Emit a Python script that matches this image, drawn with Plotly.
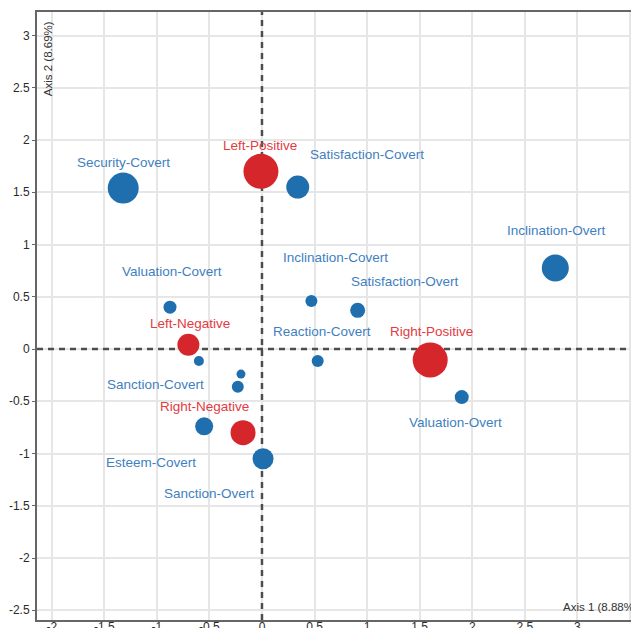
import plotly.graph_objects as go

# ---- data ----
blue_names = ["Security-Covert", "Satisfaction-Covert", "Inclination-Overt", "Inclination-Covert",
              "Satisfaction-Overt", "Valuation-Covert", "Reaction-Covert", "Sanction-Covert",
              "", "", "Valuation-Overt", "Esteem-Covert", "Sanction-Overt"]
blue_x = [-1.32, 0.34, 2.79, 0.47, 0.91, -0.875, 0.53, -0.60, -0.20, -0.23, 1.90, -0.55, 0.01]
blue_y = [1.54, 1.55, 0.775, 0.46, 0.37, 0.40, -0.115, -0.115, -0.24, -0.36, -0.46, -0.74, -1.05]
blue_weight = [31, 23, 27, 12, 15, 13, 12, 10, 9, 12, 14, 18, 21]

red_names = ["Left-Positive", "Left-Negative", "Right-Positive", "Right-Negative"]
red_x = [-0.01, -0.70, 1.60, -0.18]
red_y = [1.70, 0.04, -0.105, -0.80]
red_weight = [35, 22, 35, 25]

x_title = "Axis 1 (8.88%)"
y_title = "Axis 2 (8.69%)"

x_ticks = [-2, -1.5, -1, -0.5, 0, 0.5, 1, 1.5, 2, 2.5, 3, 3.5]
x_ticktext = ["-2", "-1.5", "-1", "-0.5", "0", "0.5", "1", "1.5", "2", "2.5", "3", "3.5"]
y_ticks = [-2.5, -2, -1.5, -1, -0.5, 0, 0.5, 1, 1.5, 2, 2.5, 3]
y_ticktext = ["-2.5", "-2", "-1.5", "-1", "-0.5", "0", "0.5", "1", "1.5", "2", "2.5", "3"]

X_RANGE = [-2.14, 3.51]
Y_RANGE = [-2.593, 3.225]

# label offsets (pixels) — layout only
blue_off = [(0, 26), (69, 33), (1, 38), (24, 43), (47, 29), (2, 36), (4, 30), (-43, -23),
            None, None, (-6, -25), (-53, -36), (-54, -35)]
red_off = [(-1, 26), (2, 21), (1, 29), (-39, 26)]

BLUE = "#1f6fae"
RED = "#d5262b"
BLUE_TXT = "#3f7fc0"
RED_TXT = "#e33b3f"
FONT = "Liberation Sans, Arial"
DASH = dict(color="#4d4d4d", width=2.5, dash="6px,5px")

fig = go.Figure()
# reference (origin) lines
fig.add_trace(go.Scatter(x=[0, 0], y=Y_RANGE, mode="lines", line=DASH,
                         hoverinfo="skip", showlegend=False))
fig.add_trace(go.Scatter(x=X_RANGE, y=[0, 0], mode="lines", line=DASH,
                         hoverinfo="skip", showlegend=False))
fig.add_trace(go.Scatter(x=blue_x, y=blue_y, mode="markers",
                         marker=dict(color=BLUE, size=blue_weight, opacity=1, line=dict(width=0)),
                         hoverinfo="skip", showlegend=False))
fig.add_trace(go.Scatter(x=red_x, y=red_y, mode="markers",
                         marker=dict(color=RED, size=red_weight, opacity=1, line=dict(width=0)),
                         hoverinfo="skip", showlegend=False))

ann = []
for n, x, y, o in zip(blue_names, blue_x, blue_y, blue_off):
    if n and o:
        ann.append(dict(x=x, y=y, text=n, showarrow=False, xshift=o[0], yshift=o[1],
                        font=dict(family=FONT, size=13.5, color=BLUE_TXT)))
for n, x, y, o in zip(red_names, red_x, red_y, red_off):
    ann.append(dict(x=x, y=y, text=n, showarrow=False, xshift=o[0], yshift=o[1],
                    font=dict(family=FONT, size=13.5, color=RED_TXT)))

ann.append(dict(xref="paper", yref="paper", x=0.882, y=0.021, xanchor="left", yanchor="middle",
                text=x_title, showarrow=False,
                font=dict(family=FONT, size=11.5, color="#333")))
ann.append(dict(xref="paper", yref="paper", x=0.0185, y=0.924, xanchor="center", yanchor="middle",
                text=y_title, showarrow=False, textangle=-90,
                font=dict(family=FONT, size=11.5, color="#333")))

axis_common = dict(showgrid=True, gridcolor="#e6e6e6", gridwidth=1.5, zeroline=False,
                   showline=True, linecolor="#666", linewidth=2,
                   tickcolor="#666", automargin=False,
                   tickfont=dict(family=FONT, size=12, color="#2b2b2b"))

fig.update_layout(
    width=631, height=628,
    margin=dict(l=37, r=0, t=12, b=8),
    paper_bgcolor="white", plot_bgcolor="white",
    xaxis=dict(range=X_RANGE, mirror=True, ticks="", ticklabelstandoff=-5,
               tickmode="array", tickvals=x_ticks, ticktext=x_ticktext, **axis_common),
    yaxis=dict(range=Y_RANGE, ticks="outside", ticklen=3,
               tickmode="array", tickvals=y_ticks, ticktext=y_ticktext, **axis_common),
    annotations=ann,
)

fig.write_html("out.html")
